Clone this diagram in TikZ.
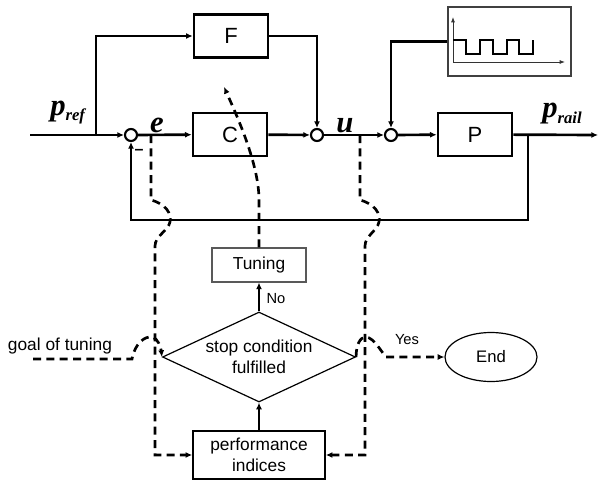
\documentclass[tikz,border=0pt]{standalone}
\usepackage{fontspec}
\setmainfont{Liberation Sans}
\newfontfamily\varserif{Liberation Serif}
\usetikzlibrary{arrows.meta,shapes.geometric}

\tikzset{
  blk/.style={draw, line width=2pt, minimum width=74*0.75pt, minimum height=43*0.75pt,
    inner sep=0pt, font=\fontsize{16.5}{18}\selectfont},
  sumpt/.style={circle, draw, line width=1.6pt, minimum size=12*0.75pt, inner sep=0pt},
  tip/.style={-{Latex[length=5pt,width=4.5pt]}},
  wire/.style={line width=2pt},
  arr/.style={wire, tip},
  dwire/.style={line width=2pt, dash pattern=on 6pt off 4pt},
  darr/.style={dwire, tip},
  farr/.style={line width=1.6pt, tip},
  flow/.style={font=\fontsize{13}{15.75}\selectfont, align=center, inner sep=0pt},
  small/.style={font=\fontsize{11}{12}\selectfont, inner sep=0pt},
  var/.style={font=\varserif\bfseries\itshape\fontsize{23}{25}\selectfont, inner sep=0pt},
}

\begin{document}
\begin{tikzpicture}[x=0.75pt, y=-0.75pt]
\useasboundingbox (0,0) rectangle (600,482);

% --- control loop -------------------------------------------------
\node[blk] (F) at (231,36) {F};
\node[blk] (C) at (230,134.5) {C};
\node[blk] (P) at (475,134.5) {P};
\node[sumpt] (s1) at (131,135) {};
\node[sumpt] (s2) at (317,135) {};
\node[sumpt] (s3) at (391,135) {};
\node[draw=black!75, line width=1pt, minimum width=123*0.75pt, minimum height=69*0.75pt,
  inner sep=0pt] (sig) at (509.5,41.5) {};

\coordinate (in) at (30,135);
\coordinate (brF) at (96,135);
\coordinate (eTap) at (151,135);
\coordinate (uTap) at (360,135);
\coordinate (fbR) at (528,135);
\coordinate (fbC) at (528,220);
\coordinate (out) at (598,135);

\draw[arr] (in) -- (s1);
\draw[arr] (s1) -- (C);
\draw[arr] (C) -- (s2);
\draw[arr] (s2) -- (s3);
\draw[arr] (s3) -- (P);
\draw[arr] (P) -- (out);
\draw[arr] (brF) |- (F);
\draw[arr] (F) -| (s2);
\draw[arr] (sig) -| (s3);
\draw[arr] (fbR) -- (fbC) -| (s1);

% square-wave excitation inside the signal box
\draw[black!80, line width=0.7pt, -{Latex[length=4pt,width=3pt]}] (453,62) -- (453,17);
\draw[black!80, line width=0.7pt, -{Latex[length=4pt,width=3pt]}] (453,62) -- (565,62);
\draw[line width=1.5pt] (453,40) -- (466,40) -- (466,54) -- (480,54) -- (480,40)
  -- (493,40) -- (493,54) -- (507,54) -- (507,40) -- (519,40) -- (519,54)
  -- (533,54) -- (533,40);

% signal names
\node[var, anchor=base west] (pref) at (50,115) {p\raisebox{-3.75pt}{\fontsize{12.5}{13}\selectfont ref}};
\node[var, anchor=base west] (prail) at (542,117) {p\raisebox{-4.5pt}{\fontsize{12.5}{13}\selectfont rail}};
\node[var, anchor=base] (elab) at (157,132) {e};
\node[var, anchor=base] (ulab) at (345,132) {u};
\node[font=\bfseries\fontsize{12}{12}\selectfont, inner sep=0pt] (minus) at (139,152) {–};

% --- tuning flow chart --------------------------------------------
\node[draw=black!65, line width=0.8pt, minimum width=94*0.75pt, minimum height=34*0.75pt,
  flow] (tun) at (259,265) {Tuning};
\node[diamond, draw, line width=0.9pt, shape aspect=2.14, minimum width=193*0.75pt,
  minimum height=90*0.75pt, flow] (dia) at (259,357) {stop condition\\fulfilled};
\node[draw, line width=1.2pt, minimum width=132*0.75pt, minimum height=48*0.75pt,
  flow] (perf) at (259,455) {performance\\indices};
\node[ellipse, draw, line width=0.9pt, minimum width=92*0.75pt, minimum height=49*0.75pt,
  flow, font=\fontsize{12.5}{14}\selectfont] (end) at (491,357) {End};

\draw[farr] (perf) -- (dia);
\draw[farr] (dia) -- (tun);
\node[small] (no) at (276,299) {No};
\node[small] (yes) at (407,340) {Yes};
\node[flow] (goal) at (60,346) {goal of tuning};

% dashed information paths
\coordinate (tuneTip) at (224,87);
\coordinate (goalS) at (33,359);
\draw[darr] (tun.north) -- (259,200) .. controls (259,165) and (238,118) .. (tuneTip);
\draw[darr] (eTap) -- (151,200) .. controls (166,204) and (172,214) .. (170,222)
  .. controls (168,231) and (155,236) .. (155,246) |- (perf.west);
\draw[darr] (uTap) -- (360,200) .. controls (375,204) and (381,214) .. (379,222)
  .. controls (377,231) and (365,236) .. (365,246) |- (perf.east);
\draw[darr] (goalS) -- (132,359) .. controls (135,343) and (145,336) .. (152,337)
  .. controls (158,338) and (161,348) .. (dia.west);
\draw[darr] (dia.east) .. controls (356,345) and (360,337) .. (366,337)
  .. controls (374,338) and (380,350) .. (386,357) -- (end.west);
\end{tikzpicture}
\end{document}
